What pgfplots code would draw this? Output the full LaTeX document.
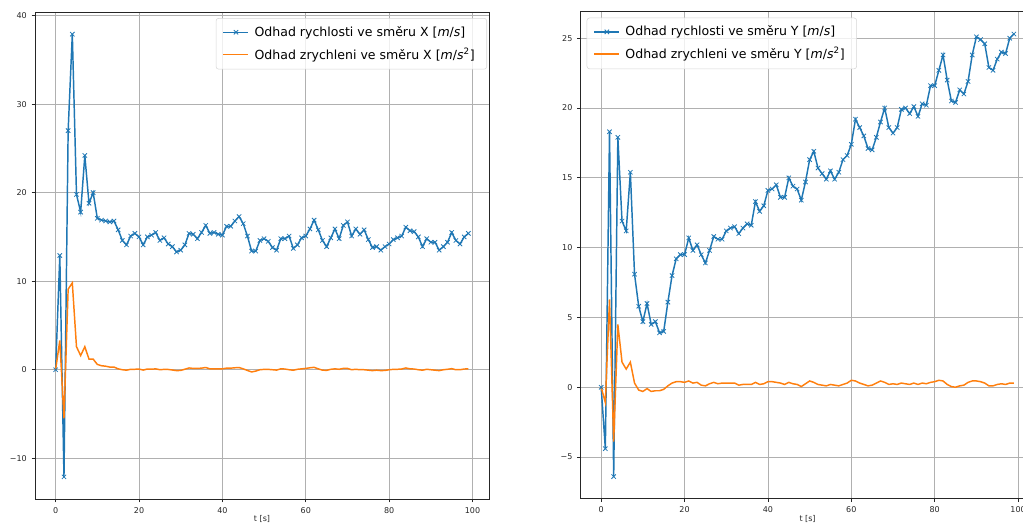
\documentclass[border=0pt]{standalone}
\usepackage{fontspec}
\setmainfont{DejaVu Sans}
\usepackage{pgfplots}
\pgfplotsset{compat=1.18}
\usepackage{pgfplotstable}
\definecolor{mplblue}{HTML}{1F77B4}
\definecolor{mplorange}{HTML}{FF7F0E}
\definecolor{gridgray}{HTML}{B0B0B0}
\definecolor{legframe}{HTML}{D6D6D6}

\pgfplotstableread{
t vx ax
0 0 0
1 12.9 3.3
2 -12.1 -5.5
3 27.0 9.1
4 37.9 9.8
5 19.8 2.6
6 17.8 1.6
7 24.2 2.6
8 18.8 1.2
9 20.0 1.2
10 17.1 0.6
11 16.9 0.45
12 16.8 0.4
13 16.7 0.3
14 16.8 0.3
15 15.8 0.1
16 14.6 0.0
17 14.1 -0.05
18 15.1 0.05
19 15.4 0.05
20 15.0 0.08
21 14.1 -0.04
22 15.0 0.08
23 15.2 0.06
24 15.5 0.1
25 14.6 0.0
26 14.9 0.04
27 14.2 0.03
28 13.9 -0.03
29 13.3 -0.1
30 13.5 -0.08
31 14.1 0.06
32 15.4 0.2
33 15.3 0.15
34 14.8 0.15
35 15.5 0.18
36 16.3 0.25
37 15.4 0.1
38 15.5 0.1
39 15.3 0.1
40 15.2 0.1
41 16.2 0.18
42 16.2 0.18
43 16.8 0.22
44 17.3 0.25
45 16.5 0.1
46 15.1 -0.08
47 13.4 -0.25
48 13.4 -0.15
49 14.6 0.0
50 14.8 0.04
51 14.5 0.04
52 13.8 0.0
53 13.5 -0.04
54 14.8 0.1
55 14.8 0.08
56 15.1 0.0
57 13.7 -0.06
58 14.1 0.05
59 14.9 0.1
60 15.1 0.15
61 15.9 0.22
62 16.9 0.27
63 15.8 0.1
64 14.6 -0.05
65 13.9 -0.07
66 14.9 0.05
67 15.9 0.1
68 14.8 0.05
69 16.3 0.15
70 16.7 0.15
71 15.1 0.0
72 15.9 0.05
73 15.3 0.0
74 15.8 0.0
75 14.7 -0.05
76 13.8 -0.1
77 13.9 -0.05
78 13.5 -0.1
79 13.9 -0.08
80 14.2 0.0
81 14.7 0.04
82 14.9 0.05
83 15.1 0.08
84 16.1 0.2
85 15.7 0.1
86 15.6 0.08
87 15.0 0.0
88 13.9 -0.05
89 14.8 0.05
90 14.4 0.0
91 14.4 -0.05
92 13.5 -0.1
93 13.9 0.0
94 14.4 0.05
95 15.5 0.12
96 14.6 0.0
97 14.2 0.0
98 15.0 0.08
99 15.4 0.1
}\leftdata

\pgfplotstableread{
t vy ay
0 0 0
1 -4.4 -1.1
2 18.3 6.3
3 -6.4 -3.9
4 17.9 4.5
5 11.9 1.8
6 11.2 1.3
7 15.4 1.8
8 8.1 0.3
9 5.8 -0.2
10 4.7 -0.3
11 6.0 -0.1
12 4.5 -0.3
13 4.7 -0.25
14 3.9 -0.25
15 4.0 -0.15
16 6.1 0.1
17 8.0 0.3
18 9.2 0.4
19 9.5 0.4
20 9.5 0.35
21 10.7 0.45
22 9.8 0.3
23 10.2 0.35
24 9.5 0.15
25 8.9 0.1
26 9.8 0.25
27 10.8 0.35
28 10.6 0.25
29 10.6 0.3
30 11.2 0.3
31 11.4 0.3
32 11.5 0.3
33 11.0 0.15
34 11.4 0.2
35 11.7 0.2
36 11.6 0.2
37 13.3 0.35
38 12.6 0.2
39 13.0 0.25
40 14.1 0.4
41 14.2 0.4
42 14.5 0.35
43 13.6 0.3
44 13.6 0.2
45 15.0 0.35
46 14.4 0.25
47 14.2 0.2
48 13.4 0.05
49 14.7 0.25
50 16.3 0.45
51 16.9 0.35
52 15.7 0.2
53 15.3 0.15
54 14.9 0.1
55 15.5 0.2
56 14.9 0.15
57 15.4 0.1
58 16.3 0.2
59 16.6 0.3
60 17.4 0.5
61 19.2 0.45
62 18.6 0.3
63 18.0 0.2
64 17.1 0.1
65 17.0 0.15
66 17.9 0.3
67 19.0 0.45
68 20.0 0.35
69 18.6 0.2
70 18.2 0.25
71 18.6 0.2
72 19.9 0.3
73 20.0 0.25
74 19.6 0.2
75 20.1 0.3
76 19.4 0.2
77 20.3 0.3
78 20.2 0.25
79 21.6 0.35
80 21.6 0.4
81 22.7 0.5
82 23.8 0.45
83 22.0 0.2
84 20.5 0.05
85 20.4 0.0
86 21.3 0.1
87 21.0 0.15
88 21.9 0.35
89 23.8 0.45
90 25.1 0.45
91 24.9 0.4
92 24.6 0.3
93 22.9 0.1
94 22.7 0.1
95 23.5 0.2
96 24.0 0.25
97 23.9 0.2
98 25.0 0.3
99 25.3 0.3
}\rightdata

\pgfplotsset{
  myaxis/.style={
    scale only axis, width=340.5pt, height=365.25pt, anchor=south west,
    xmin=-4.95, xmax=103.95,
    xtick={0,20,...,100},
    grid=major, grid style={gridgray, line width=0.6pt},
    axis line style={black!85, line width=0.6pt},
    tick align=outside, tick pos=left, major tick length=2.6pt,
    tick style={black!85, line width=0.6pt},
    ticklabel style={font=\fontsize{6}{7}\selectfont, text=black!85},
    /pgf/number format/assume math mode=true,
    xlabel={t [s]},
    xlabel style={font=\fontsize{6}{7}\selectfont, text=black!85, at={(axis description cs:0.5,0)}, anchor=north, yshift=-12pt, inner sep=0pt},
    legend cell align=left,
    legend style={font=\fontsize{9.4}{11}\selectfont, draw=legframe, rounded corners=2pt, fill=white, fill opacity=0.8, text opacity=1, inner xsep=5pt, inner ysep=4pt, row sep=3pt,
      nodes={inner xsep=4pt}},
    legend image code/.code={\draw[mark repeat=2,mark phase=2,##1] plot coordinates {(0cm,0cm) (0.33cm,0cm) (0.66cm,0cm)};},
  },
  blueline/.style={color=mplblue, draw=mplblue, line width=1.1pt, mark=x, mark size=2.3pt, mark options={draw=mplblue, line width=0.6pt}},
  orangeline/.style={color=mplorange, draw=mplorange, line width=1.1pt, no marks},
}

\begin{document}
\begin{tikzpicture}
\useasboundingbox (0,0) rectangle (767.25pt,394.5pt);
\clip (0,0) rectangle (767.25pt,394.5pt);

\begin{axis}[myaxis, at={(26.25pt,20.25pt)},
  ymin=-14.6, ymax=40.4,
  ytick={-10,0,...,40}, yticklabels={−10,0,10,20,30,40},
  legend style={at={(1,1)}, anchor=north east, xshift=-1.5pt, yshift=-4.5pt}]
\addplot[blueline] table[x=t, y=vx] {\leftdata};
\addlegendentry{Odhad rychlosti ve směru X [\textit{m}/\textit{s}]}
\addplot[orangeline] table[x=t, y=ax] {\leftdata};
\addlegendentry{Odhad zrychleni ve směru X [\textit{m}/\textit{s}\textsuperscript{2}]}
\end{axis}

\begin{axis}[myaxis, at={(435.4pt,20.5pt)},
  ymin=-7.98, ymax=26.9,
  ytick={-5,0,...,25}, yticklabels={−5,0,5,10,15,20,25},
  legend style={at={(0,1)}, anchor=north west, xshift=4.6pt, yshift=-4.5pt}]
\addplot[blueline] table[x=t, y=vy] {\rightdata};
\addlegendentry{Odhad rychlosti ve směru Y [\textit{m}/\textit{s}]}
\addplot[orangeline] table[x=t, y=ay] {\rightdata};
\addlegendentry{Odhad zrychleni ve směru Y [\textit{m}/\textit{s}\textsuperscript{2}]}
\end{axis}
\end{tikzpicture}
\end{document}
